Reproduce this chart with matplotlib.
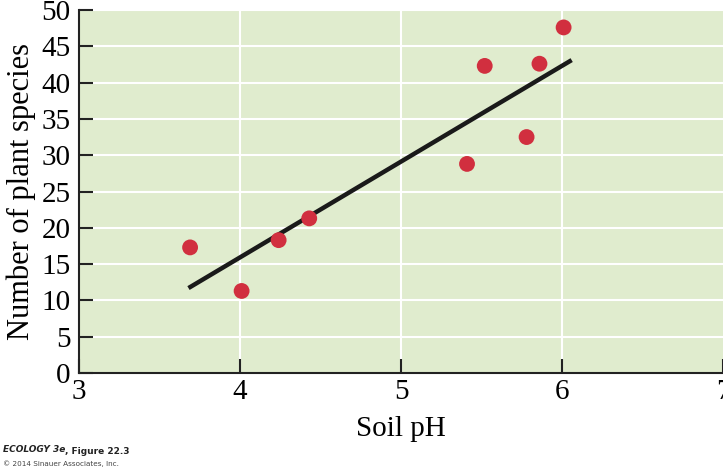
import numpy as np
import matplotlib.pyplot as plt

# soil pH vs number of plant species
ph = [3.69, 4.01, 4.24, 4.43, 5.41, 5.52, 5.78, 5.86, 6.01]
species = [17.3, 11.3, 18.3, 21.3, 28.8, 42.3, 32.5, 42.6, 47.6]

# fitted regression line end points
fit_x = [3.68, 6.06]
fit_y = [11.7, 43.1]

xticks = [3, 4, 5, 6, 7]
yticks = [0, 5, 10, 15, 20, 25, 30, 35, 40, 45, 50]

serif = 'Liberation Serif'

fig = plt.figure(figsize=(7.23, 4.70), dpi=100)
ax = fig.add_axes([79/723, 1 - 373/470, 1 - 79/723, 363/470])
ax.set_facecolor('#e0ecce')

# white grid
for x in [4, 5, 6]:
    ax.axvline(x, color='white', lw=1.5, zorder=1)
for y in yticks[1:]:
    ax.axhline(y, color='white', lw=1.5, zorder=1)

ax.plot(fit_x, fit_y, color='#1a1a1a', lw=3.2, solid_capstyle='butt', zorder=2)
ax.scatter(ph, species, s=130, color='#d12f3f', edgecolors='none', zorder=3)

ax.set_xlim(3, 7)
ax.set_ylim(0, 50)
ax.set_xticks(xticks)
ax.set_yticks(yticks)
ax.tick_params(direction='in', length=10, width=1.5, color='#222222',
               labelsize=21, pad=6)
for lbl in ax.get_xticklabels() + ax.get_yticklabels():
    lbl.set_fontfamily(serif)
ax.tick_params(axis='x', pad=4)

for s in ['top', 'right']:
    ax.spines[s].set_visible(False)
for s in ['left', 'bottom']:
    ax.spines[s].set_linewidth(1.5)
    ax.spines[s].set_color('#222222')

ax.set_xlabel('Soil pH', fontsize=21, family=serif, labelpad=8)
ax.set_ylabel('Number of plant species', fontsize=22, family=serif, labelpad=4)

# credit line
t1 = fig.text(0.004, 0.038, 'ECOLOGY 3e', fontsize=6.5, fontweight='bold',
              style='italic', family='DejaVu Sans', color='#222222')
fig.canvas.draw()
ax.annotate(', Figure 22.3', xy=(1, 0), xycoords=t1, fontsize=6.5,
            fontweight='bold', family='DejaVu Sans', color='#222222',
            annotation_clip=False)
fig.text(0.004, 0.008, '© 2014 Sinauer Associates, Inc.', fontsize=5.2,
         family='DejaVu Sans', color='#444444')

fig.savefig('out.png', dpi=100)
